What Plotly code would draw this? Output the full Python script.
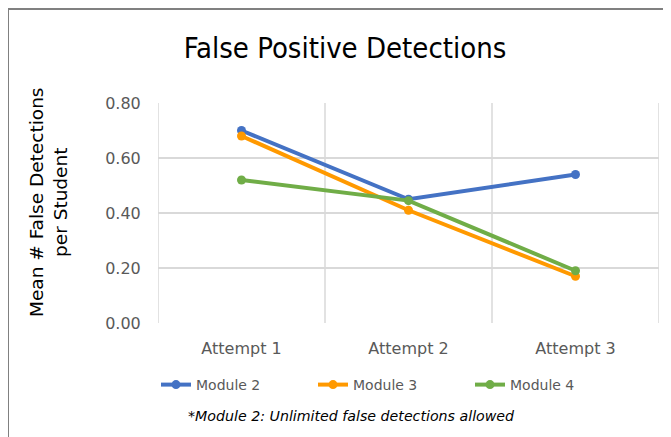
import plotly.graph_objects as go

categories = ["Attempt 1", "Attempt 2", "Attempt 3"]
module2 = [0.70, 0.45, 0.54]
module3 = [0.68, 0.41, 0.17]
module4 = [0.52, 0.445, 0.19]
series_names = ["Module 2", "Module 3", "Module 4"]
colors = ["#4472C4", "#FF9900", "#70AD47"]
tick_vals = [0, 0.2, 0.4, 0.6, 0.8]
tick_text = ["0.00", "0.20", "0.40", "0.60", "0.80"]

OFF = 8  # page body margin
W, H = 671 - OFF, 437 - OFF
# target page coordinates of plot area: x 158..659, y 103..323
PL, PR, PT, PB = 158 - OFF, 659 - OFF, 103 - OFF, 323 - OFF
ML, MR, MT, MB = PL, W - PR, PT, H - PB
PW, PH = PR - PL, PB - PT
FONT = "DejaVu Sans"
FONT_C = "DejaVu Sans Condensed"


def px(x):
    return (x - OFF - PL) / PW


def py(y):
    return (PB - (y - OFF)) / PH


fig = go.Figure()
for name, vals, c in zip(series_names, [module2, module3, module4], colors):
    fig.add_trace(go.Scatter(
        x=categories, y=vals, name=name, mode="lines+markers",
        line=dict(color=c, width=4), marker=dict(color=c, size=9),
    ))

fig.update_layout(
    width=W, height=H,
    margin=dict(l=ML, r=MR, t=MT, b=MB, autoexpand=False),
    paper_bgcolor="white", plot_bgcolor="white",
    font=dict(family=FONT, color="#595959"),
    title=dict(text="False Positive Detections", x=(345 - OFF) / W, xanchor="center",
               y=1 - (48 - OFF) / H, yanchor="middle",
               font=dict(family=FONT_C, size=29, color="black")),
    xaxis=dict(type="category", range=[-0.5, 2.5], showgrid=False,
               showline=False, zeroline=False, ticks="outside", ticklen=11,
               tickcolor="rgba(0,0,0,0)",
               tickfont=dict(size=16, color="#595959")),
    yaxis=dict(range=[0, 0.8], tickvals=tick_vals, ticktext=tick_text,
               showgrid=True, gridcolor="#D9D9D9", gridwidth=1.5,
               zeroline=False, showline=False, ticks="outside", ticklen=13,
               tickcolor="rgba(0,0,0,0)",
               tickfont=dict(size=16, color="#595959")),
    legend=dict(orientation="h", x=px(156), xanchor="left",
                y=py(385), yanchor="middle",
                font=dict(size=14, color="#595959"),
                entrywidth=112, entrywidthmode="pixels",
                tracegroupgap=0),
    showlegend=True,
)

# vertical category separators
for xv in [-0.5, 0.5, 1.5, 2.5]:
    fig.add_shape(type="line", xref="x", yref="y", x0=xv, x1=xv, y0=0, y1=0.8,
                  line=dict(color="#D9D9D9", width=1.5), layer="below")

fig.add_annotation(text="Mean # False Detections<br>per Student",
                   xref="paper", yref="paper",
                   x=px(48), y=py(202),
                   xanchor="center", yanchor="middle", textangle=-90,
                   showarrow=False, font=dict(family=FONT, size=18.5, color="black"))

fig.add_annotation(text="<i>*Module 2: Unlimited false detections allowed</i>",
                   xref="paper", yref="paper",
                   x=px(351), y=py(416),
                   xanchor="center", yanchor="middle", showarrow=False,
                   font=dict(family=FONT, size=14.2, color="black"))

# outer chart border
fig.add_shape(type="rect", xref="paper", yref="paper",
              x0=px(8), x1=px(700), y0=py(470), y1=py(9),
              line=dict(color="#808080", width=2), layer="below")

fig.write_html("out.html")
